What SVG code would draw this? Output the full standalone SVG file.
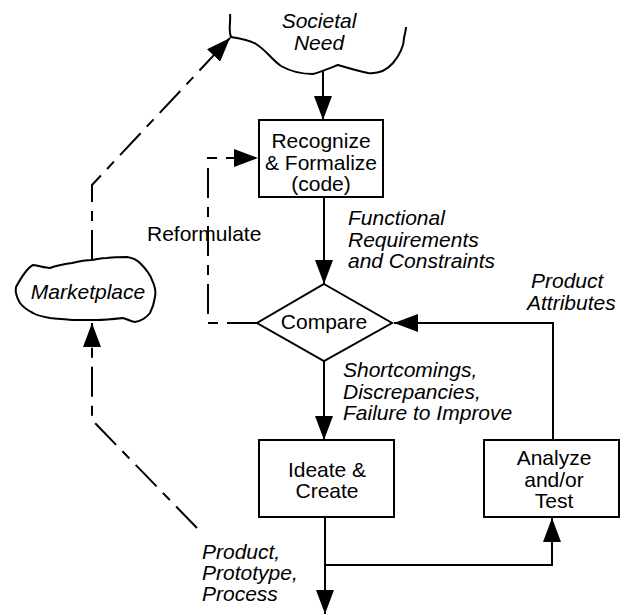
<svg xmlns="http://www.w3.org/2000/svg" width="629" height="615" viewBox="0 0 629 615">
<style>
.ln{fill:none;stroke:#000;stroke-width:2}
.ds{fill:none;stroke:#000;stroke-width:2;stroke-dasharray:30,9,10,9}
.bx{fill:#fff;stroke:#000;stroke-width:2}
.cl{fill:#fff;stroke:#000;stroke-width:2;stroke-linejoin:round}
.t{font-family:"Liberation Sans",Arial,sans-serif;font-size:21px;fill:#000}
.c{text-anchor:middle}
.i{font-style:italic}
</style>
<defs>
<marker id="ah" viewBox="0 0 24 18" refX="24" refY="9" markerWidth="24" markerHeight="18" orient="auto" markerUnits="userSpaceOnUse">
<path d="M0,0 L24,9 L0,18 Z" fill="#000" stroke="none"/>
</marker>
</defs>
<g id="connectors">
<path class="ln" d="M323,70 V120" marker-end="url(#ah)"/>
<path class="ln" d="M324,197 V284" marker-end="url(#ah)"/>
<path class="ds" d="M257,323 H208 V158 H258" marker-end="url(#ah)"/>
<path class="ln" d="M324,361 V440" marker-end="url(#ah)"/>
<path class="ln" d="M553,440 V323 H394" marker-end="url(#ah)"/>
<path class="ln" d="M325,517 V614" marker-end="url(#ah)"/>
<path class="ln" d="M325,565 H552 V518" marker-end="url(#ah)"/>
<path class="ds" d="M92,260 V185 L230,38" marker-end="url(#ah)"/>
<path class="ds" d="M197,528 L92,420 V323" marker-end="url(#ah)"/>
</g>
<g id="societal-need">
<path class="cl" d="M230,14 C231,22 228,30 231,37 C238,38 247,39 256,44 C266,50 272,60 281,66 C290,71 302,74 313,74 C320,72 330,68 338,65 C348,68 358,71 368,73 C378,74 386,71 393,63 C400,55 404,45 404,38 C405,33 406,30 406,27" style="fill:none"/>
<text class="t c i" x="319" y="28">Societal</text>
<text class="t c i" x="319" y="50">Need</text>
</g>
<g id="recognize">
<rect class="bx" x="259" y="120" width="124" height="77"/>
<text class="t c" x="321" y="148">Recognize</text>
<text class="t c" x="321" y="170">&amp; Formalize</text>
<text class="t c" x="321" y="191">(code)</text>
</g>
<g id="reformulate-label">
<text class="t" x="147" y="241">Reformulate</text>
</g>
<g id="functional-label">
<text class="t i" x="348" y="225">Functional</text>
<text class="t i" x="348" y="247">Requirements</text>
<text class="t i" x="348" y="268">and Constraints</text>
</g>
<g id="compare">
<path class="bx" d="M324,284 L392,323 L324,361 L257,323 Z"/>
<text class="t c" x="324" y="329">Compare</text>
</g>
<g id="attributes-label">
<text class="t i" x="531" y="288">Product</text>
<text class="t i" x="527" y="310">Attributes</text>
</g>
<g id="shortcomings-label">
<text class="t i" x="343" y="377">Shortcomings,</text>
<text class="t i" x="343" y="399">Discrepancies,</text>
<text class="t i" x="343" y="420">Failure to Improve</text>
</g>
<g id="ideate">
<rect class="bx" x="259" y="440" width="135" height="77"/>
<text class="t c" x="327" y="477">Ideate &amp;</text>
<text class="t c" x="327" y="498">Create</text>
</g>
<g id="analyze">
<rect class="bx" x="484" y="440" width="135" height="77"/>
<text class="t c" x="554" y="465">Analyze</text>
<text class="t c" x="554" y="487">and/or</text>
<text class="t c" x="554" y="508">Test</text>
</g>
<g id="product-label">
<text class="t i" x="202" y="559">Product,</text>
<text class="t i" x="202" y="580">Prototype,</text>
<text class="t i" x="202" y="601">Process</text>
</g>
<g id="marketplace">
<path class="cl" d="M16,287 C22,276 27,268 33,265 C40,266 45,268 50,268 C58,265 65,264 72,263 C80,261 86,260 92,260 C98,259 102,258 107,258 C115,257 121,257 127,257 C133,258 137,260 140,263 C146,269 150,274 152,280 C155,286 156,292 155,297 C154,304 152,309 150,313 C146,318 141,321 135,322 C130,321 127,319 123,318 C114,319 105,320 97,320 C88,320 80,320 72,320 C64,319 57,319 50,318 C44,317 38,316 33,313 C27,310 23,307 20,303 C17,298 15,292 16,287 Z"/>
<text class="t c i" x="88" y="299">Marketplace</text>
</g>
</svg>
